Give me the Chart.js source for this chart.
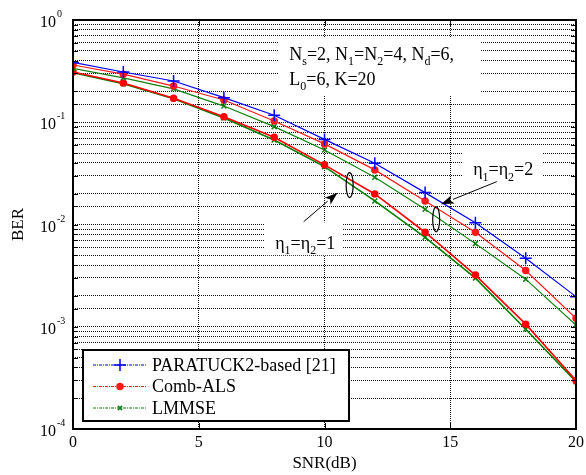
<!DOCTYPE html>
<html>
<head>
<meta charset="utf-8">
<script src="https://cdn.jsdelivr.net/npm/chart.js@4.4.0/dist/chart.umd.min.js"></script>
<style>
html, body { margin: 0; padding: 0; background: #fff; }
</style>
</head>
<body>
<canvas id="berChart" width="586" height="475"></canvas>
<script>
// BER vs SNR values
const snr = [0, 2, 4, 6, 8, 10, 12, 14, 16, 18, 20];
const paratuck2Eta2 = [0.385, 0.31, 0.253, 0.174, 0.117, 0.068, 0.0397, 0.0205, 0.0104, 0.00468, 0.00197];
const combAlsEta2 = [0.363, 0.295, 0.226, 0.165, 0.103, 0.0614, 0.0342, 0.017, 0.0084, 0.00355, 0.00121];
const lmmseEta2 = [0.337, 0.272, 0.212, 0.144, 0.0906, 0.0536, 0.029, 0.0141, 0.0065, 0.00292, 0.00104];
const combAlsEta1 = [0.31, 0.242, 0.172, 0.113, 0.0713, 0.0383, 0.0199, 0.0084, 0.0032, 0.00106, 0.000298];
const lmmseEta1 = [0.306, 0.238, 0.17, 0.11, 0.067, 0.0368, 0.017, 0.0075, 0.00299, 0.000946, 0.00029];

const xTickValues = [0, 5, 10, 15, 20];
const yDecades = [0, -1, -2, -3, -4];
const legendNames = ['PARATUCK2-based [21]', 'Comb-ALS', 'LMMSE'];

const SERIF = '"Liberation Serif", "DejaVu Serif", serif';

function makeSet(data, color, style, radius, width) {
    return {
        data: snr.map((x, i) => ({ x: x, y: data[i] })),
        borderColor: color,
        backgroundColor: color,
        borderWidth: width,
        borderDash: [],
        pointStyle: style,
        pointRadius: radius,
        pointBorderWidth: 1.5,
        pointBackgroundColor: color,
        pointBorderColor: color,
        tension: 0,
        fill: false
    };
}

// draw text with subscripts: parts = [[text, isSub], ...]
function drawRich(ctx, parts, x, y, size) {
    let cx = x;
    parts.forEach(([txt, sub]) => {
        ctx.font = (sub ? Math.round(size * 0.68) : size) + 'px ' + SERIF;
        ctx.fillText(txt, cx, sub ? y + size * 0.3 : y);
        cx += ctx.measureText(txt).width;
    });
}

function arrow(ctx, x1, y1, x2, y2) {
    const ang = Math.atan2(y2 - y1, x2 - x1);
    const len = 13, half = 4.5;
    const bx = x2 - len * Math.cos(ang), by = y2 - len * Math.sin(ang);
    ctx.beginPath();
    ctx.moveTo(x1, y1);
    ctx.lineTo(bx, by);
    ctx.stroke();
    ctx.beginPath();
    ctx.moveTo(x2, y2);
    ctx.lineTo(bx + half * Math.sin(ang), by - half * Math.cos(ang));
    ctx.lineTo(bx + 3 * Math.cos(ang), by + 3 * Math.sin(ang));
    ctx.lineTo(bx - half * Math.sin(ang), by + half * Math.cos(ang));
    ctx.closePath();
    ctx.fill();
}

const figurePlugin = {
    id: 'figure',
    beforeDatasetsDraw(chart) {
        const ctx = chart.ctx;
        const xs = chart.scales.x, ys = chart.scales.y;
        const px = v => xs.getPixelForValue(v);
        const py = l => ys.getPixelForValue(Math.pow(10, l));
        ctx.save();
        ctx.setLineDash([]);
        ctx.fillStyle = '#fff';
        // parameter text box
        ctx.fillRect(px(8.17), py(-0.166), px(16.23) - px(8.17), py(-0.733) - py(-0.166));
        // eta labels
        ctx.fillRect(px(15.51), py(-1.27), px(18.68) - px(15.51), py(-1.62) - py(-1.27));
        ctx.fillRect(px(7.6), py(-1.98), px(10.74) - px(7.6), py(-2.3) - py(-1.98));
        ctx.restore();
    },
    afterDatasetsDraw(chart) {
        const ctx = chart.ctx;
        const area = chart.chartArea;
        const xs = chart.scales.x, ys = chart.scales.y;
        const px = v => xs.getPixelForValue(v);
        const py = l => ys.getPixelForValue(Math.pow(10, l));
        ctx.save();
        ctx.setLineDash([]);
        ctx.fillStyle = '#000';
        ctx.strokeStyle = '#000';

        // inward tick marks
        ctx.lineWidth = 1;
        ys.ticks.forEach(t => {
            const y = Math.round(ys.getPixelForValue(t.value)) + 0.5;
            ctx.beginPath();
            ctx.moveTo(area.left, y); ctx.lineTo(area.left + 5, y);
            ctx.moveTo(area.right, y); ctx.lineTo(area.right - 5, y);
            ctx.stroke();
        });
        xTickValues.forEach(v => {
            const x = Math.round(px(v)) + 0.5;
            ctx.beginPath();
            ctx.moveTo(x, area.bottom); ctx.lineTo(x, area.bottom - 6);
            ctx.moveTo(x, area.top); ctx.lineTo(x, area.top + 6);
            ctx.stroke();
        });

        // frame
        ctx.lineWidth = 2;
        ctx.strokeRect(area.left, area.top, area.right - area.left, area.bottom - area.top);

        // y tick labels 10^n
        yDecades.forEach(d => {
            const y = py(d);
            ctx.font = '16px ' + SERIF;
            ctx.textAlign = 'right';
            ctx.textBaseline = 'alphabetic';
            ctx.fillText('10', area.left - 17, y + 7);
            ctx.font = '10px ' + SERIF;
            ctx.textAlign = 'left';
            ctx.fillText(d === 0 ? '0' : String(d), area.left - 16, y - 3);
        });

        // x tick labels
        ctx.font = '16px ' + SERIF;
        ctx.textAlign = 'center';
        xTickValues.forEach(v => ctx.fillText(String(v), px(v), area.bottom + 18));

        // axis titles
        ctx.font = '17px ' + SERIF;
        ctx.fillText('SNR(dB)', (area.left + area.right) / 2, area.bottom + 39);
        ctx.save();
        ctx.translate(23, (area.top + area.bottom) / 2);
        ctx.rotate(-Math.PI / 2);
        ctx.fillText('BER', 0, 0);
        ctx.restore();

        // parameter text
        ctx.textAlign = 'left';
        drawRich(ctx, [['N', 0], ['s', 1], ['=2, N', 0], ['1', 1], ['=N', 0], ['2', 1], ['=4, N', 0], ['d', 1], ['=6,', 0]], px(8.6), py(-0.39), 18);
        drawRich(ctx, [['L', 0], ['0', 1], ['=6, K=20', 0]], px(8.6), py(-0.635), 18);

        // eta labels
        drawRich(ctx, [['\u03b7', 0], ['1', 1], ['=\u03b7', 0], ['2', 1], ['=2', 0]], px(15.91), py(-1.52), 18);
        drawRich(ctx, [['\u03b7', 0], ['1', 1], ['=\u03b7', 0], ['2', 1], ['=1', 0]], px(8.04), py(-2.24), 18);

        // ellipses
        ctx.lineWidth = 1.2;
        ctx.beginPath();
        ctx.ellipse(px(11.0), py(-1.614), 3.5, 12.5, 0, 0, Math.PI * 2);
        ctx.stroke();
        ctx.beginPath();
        ctx.ellipse(px(14.44), py(-1.949), 3.5, 12.5, 0, 0, Math.PI * 2);
        ctx.stroke();

        // arrows
        ctx.lineWidth = 1;
        arrow(ctx, px(9.17), py(-1.973), px(10.52), py(-1.689));
        arrow(ctx, px(16.85), py(-1.581), px(14.63), py(-1.802));

        // legend
        const lx = 83, ly = 350, lw = 266, lh = 71;
        ctx.fillStyle = '#fff';
        ctx.fillRect(lx, ly, lw, lh);
        ctx.lineWidth = 2;
        ctx.strokeStyle = '#000';
        ctx.strokeRect(lx, ly, lw, lh);
        legendNames.forEach((name, i) => {
            const ds = chart.data.datasets[i];
            const y = ly + 15 + i * 21.5;
            ctx.strokeStyle = ds.borderColor;
            ctx.lineWidth = 1;
            ctx.setLineDash([3, 1, 1, 1]);
            ctx.beginPath();
            ctx.moveTo(lx + 10, y); ctx.lineTo(lx + 63, y);
            ctx.stroke();
            ctx.setLineDash([]);
            ctx.lineWidth = 1.5;
            Chart.helpers.drawPoint(ctx, {
                pointStyle: ds.pointStyle,
                radius: i === 0 ? 6 : 3,
                rotation: 0,
                borderWidth: 1.5
            }, lx + 37, y);
            ctx.fillStyle = ds.pointBackgroundColor;
            if (ds.pointStyle === 'circle') {
                ctx.beginPath();
                ctx.arc(lx + 37, y, 3, 0, Math.PI * 2);
                ctx.fill();
            }
            ctx.fillStyle = '#000';
            ctx.font = '18px ' + SERIF;
            ctx.textBaseline = 'middle';
            ctx.fillText(name, lx + 69, y + 1);
        });
        ctx.restore();
    }
};

const gridOpts = { color: '#111', lineWidth: 1, drawTicks: false };

new Chart(document.getElementById('berChart'), {
    type: 'line',
    data: {
        datasets: [
            makeSet(paratuck2Eta2, '#0000ff', 'cross', 6, 1.2),
            makeSet(combAlsEta2, '#ff1a1a', 'circle', 3, 1.2),
            makeSet(lmmseEta2, '#108010', 'crossRot', 3.5, 1.2),
            makeSet(combAlsEta1, '#ff0000', 'circle', 3, 1.6),
            makeSet(lmmseEta1, '#008000', 'crossRot', 3.5, 1.6)
        ]
    },
    options: {
        responsive: false,
        animation: false,
        devicePixelRatio: 1,
        layout: { padding: { left: 73, right: 10, top: 20, bottom: 46 } },
        plugins: { legend: { display: false }, tooltip: { enabled: false } },
        scales: {
            x: {
                type: 'linear', min: 0, max: 20,
                ticks: { display: false, stepSize: 5 },
                grid: gridOpts,
                border: { display: false, dash: [1, 1] },
                afterFit: s => { s.height = 0; }
            },
            y: {
                type: 'logarithmic', min: 1e-4, max: 1,
                ticks: { display: false },
                grid: gridOpts,
                border: { display: false, dash: [1, 1] },
                afterFit: s => { s.width = 0; }
            }
        }
    },
    plugins: [figurePlugin]
});
</script>
</body>
</html>
